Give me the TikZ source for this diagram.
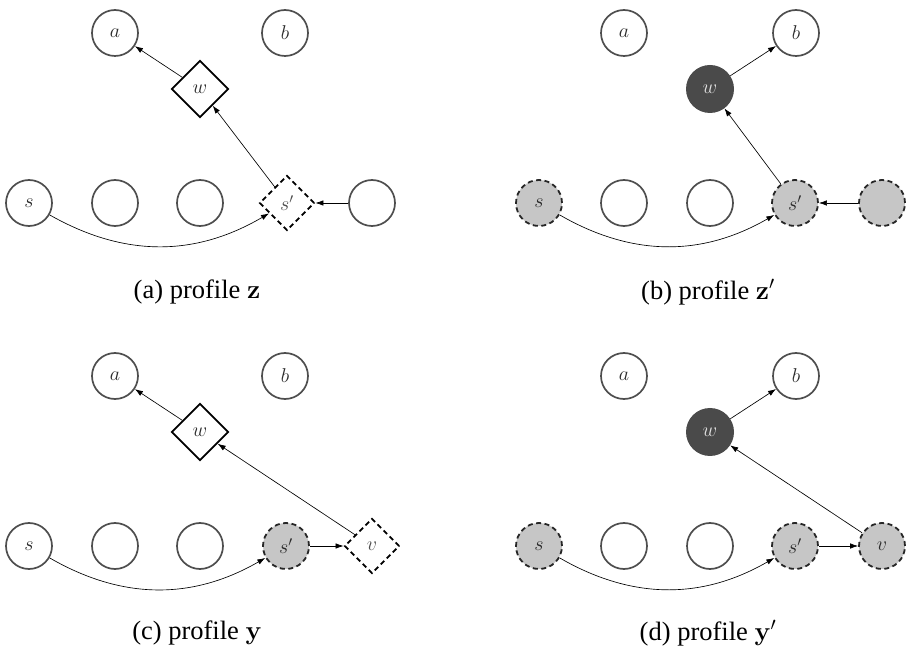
\RequirePackage{fix-cm}
\documentclass[tikz,border=0pt]{standalone}
\usepackage[no-math]{fontspec}
\setmainfont{Liberation Serif}
\usetikzlibrary{shapes.geometric,arrows.meta}
\definecolor{ring}{HTML}{4E4E4E}
\definecolor{shade}{HTML}{C6C6C6}
\definecolor{darkfill}{HTML}{4A4A4A}
\definecolor{lbl}{HTML}{2A2A2A}
\tikzset{
  lab/.style={font=\fontsize{20}{21}\selectfont, text=lbl},
  plain/.style={lab, circle, draw=ring, line width=1.7pt, minimum size=46pt, inner sep=0pt},
  shaded/.style={lab, circle, draw=black!85, fill=shade, line width=1.8pt, dash pattern=on 5pt off 3.5pt, minimum size=46pt, inner sep=0pt},
  filled/.style={lab, circle, fill=darkfill, minimum size=48pt, inner sep=0pt, text=black!12},
  dia/.style={lab, diamond, draw=black, line width=1.8pt, minimum size=57pt, inner sep=0pt},
  dashdia/.style={lab, diamond, draw=black, line width=1.8pt, dash pattern=on 5pt off 3.5pt, minimum size=55pt, inner sep=0pt, text=black!70},
  conn/.style={-{Latex[length=8pt,width=5.5pt]}, line width=0.65pt},
  captext/.style={font=\fontsize{26.5}{30}\selectfont}
}
\begin{document}
\begin{tikzpicture}[x=1pt,y=-1pt]
\useasboundingbox (0,0) rectangle (906,652);
% ---------- (a) ----------
\begin{scope}[shift={(0,0)}]
  \node[plain] (Aa) at (115,33) {$a$};
  \node[plain] (Ab) at (285,33) {$b$};
  \node[dia] (Aw) at (200,89) {$w$};
  \node[plain] (As) at (29,203) {$s$};
  \node[plain] (A2) at (115,203) {};
  \node[plain] (A3) at (200,203) {};
  \node[dashdia] (Asp) at (287,203) {$s'$};
  \node[plain] (A5) at (372,203) {};
  \node[captext] (Acap) at (197,292) {(a) profile $\mathbf{z}$};
  \draw[conn] (Aw) -- (Aa);
  \draw[conn] (Asp) -- (Aw);
  \draw[conn] (A5) -- (Asp);
  \draw[conn] (As) to[bend right=30] (Asp);
\end{scope}
% ---------- (b) ----------
\begin{scope}[shift={(509,0)}]
  \node[plain] (Ba) at (115,33) {$a$};
  \node[plain] (Bb) at (287,33) {$b$};
  \node[filled] (Bw) at (201,89) {$w$};
  \node[shaded] (Bs) at (30,203) {$s$};
  \node[plain] (B2) at (115,203) {};
  \node[plain] (B3) at (201,203) {};
  \node[shaded] (Bsp) at (286,203) {$s'$};
  \node[shaded] (B5) at (373,203) {};
  \node[captext] (Bcap) at (199,292) {(b) profile $\mathbf{z}'$};
  \draw[conn] (Bw) -- (Bb);
  \draw[conn] (Bsp) -- (Bw);
  \draw[conn] (B5) -- (Bsp);
  \draw[conn] (Bs) to[bend right=30] (Bsp);
\end{scope}
% ---------- (c) ----------
\begin{scope}[shift={(0,343)}]
  \node[plain] (Ca) at (115,33) {$a$};
  \node[plain] (Cb) at (285,33) {$b$};
  \node[dia] (Cw) at (200,89) {$w$};
  \node[plain] (Cs) at (29,203) {$s$};
  \node[plain] (C2) at (115,203) {};
  \node[plain] (C3) at (200,203) {};
  \node[shaded] (Csp) at (286,203) {$s'$};
  \node[dashdia] (Cv) at (372,203) {$v$};
  \node[captext] (Ccap) at (197,290) {(c) profile $\mathbf{y}$};
  \draw[conn] (Cw) -- (Ca);
  \draw[conn] (Cv) -- (Cw);
  \draw[conn] (Csp) -- (Cv);
  \draw[conn] (Cs) to[bend right=30] (Csp);
\end{scope}
% ---------- (d) ----------
\begin{scope}[shift={(509,343)}]
  \node[plain] (Da) at (115,33) {$a$};
  \node[plain] (Db) at (287,33) {$b$};
  \node[filled] (Dw) at (201,89) {$w$};
  \node[shaded] (Ds) at (30,203) {$s$};
  \node[plain] (D2) at (115,203) {};
  \node[plain] (D3) at (201,203) {};
  \node[shaded] (Dsp) at (286,203) {$s'$};
  \node[shaded] (Dv) at (373,203) {$v$};
  \node[captext] (Dcap) at (199,290) {(d) profile $\mathbf{y}'$};
  \draw[conn] (Dw) -- (Db);
  \draw[conn] (Dv) -- (Dw);
  \draw[conn] (Dsp) -- (Dv);
  \draw[conn] (Ds) to[bend right=30] (Dsp);
\end{scope}
\end{tikzpicture}
\end{document}
